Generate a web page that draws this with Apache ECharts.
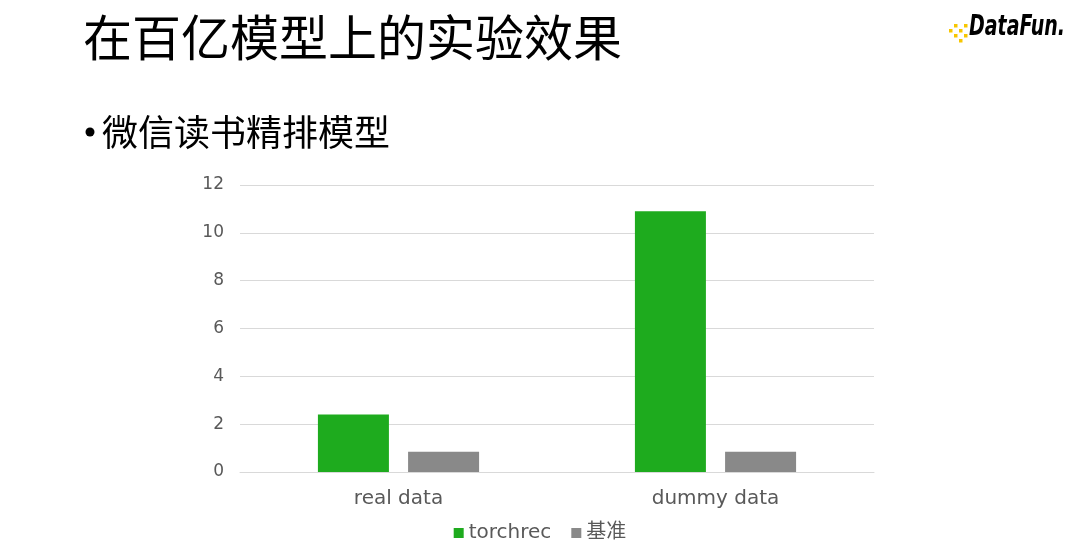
<!DOCTYPE html>
<html><head><meta charset="utf-8">
<script src="https://cdn.jsdelivr.net/npm/echarts@6/dist/echarts.min.js"></script>
<style>html,body{margin:0;padding:0;background:#fff}#c{width:1080px;height:555px}</style>
</head><body><div id="c"></div>
<script>
const categories = ['real data', 'dummy data'];
const torchrec = [2.4, 10.9];
const baseline = [0.85, 0.85];
const seriesNames = ['torchrec', '基准'];

const chart = echarts.init(document.getElementById('c'));
const font = '"DejaVu Sans", "Noto Sans CJK SC", sans-serif';
const dots = [];
const dotPos = [[949,29],[954,24],[954,34],[959,29],[959,39],[964,24],[964,34]];
dotPos.forEach(p => dots.push({type:'rect', shape:{x:p[0], y:p[1], width:3.5, height:3.5}, style:{fill:'#f7c600'}}));
chart.setOption({
  animation: false,
  textStyle: {fontFamily: font},
  graphic: [
    {type:'text', left: 83, top: 13, style:{text:'在百亿模型上的实验效果', font:'49px "Noto Sans CJK SC"', fill:'#000'}},
    {type:'circle', shape:{cx: 90, cy: 132, r: 4.5}, style:{fill:'#000'}},
    {type:'text', left: 102, top: 114, style:{text:'微信读书精排模型', font:'36px "Noto Sans CJK SC"', fill:'#000'}},
    ...dots,
    {type:'text', x: 969, y: 14, scaleY: 1.45, style:{text:'DataFun.', font:'bold italic 19px "DejaVu Sans"', fill: new echarts.graphic.LinearGradient(0,0,1,0,[{offset:0,color:'#f9b800'},{offset:1,color:'#f26a1b'}])}}
  ],
  grid: {left: 240, right: 206, top: 185, bottom: 83},
  legend: {
    bottom: 7, left: 'center', itemWidth: 10, itemHeight: 10, itemGap: 20,
    icon: 'rect',
    textStyle: {color: '#595959', fontSize: 20, fontFamily: font},
    data: seriesNames
  },
  xAxis: {
    type: 'category', data: categories,
    axisLine: {lineStyle: {color: '#d9d9d9'}},
    axisTick: {show: false},
    axisLabel: {color: '#595959', fontSize: 20, margin: 17, fontFamily: font}
  },
  yAxis: {
    type: 'value', min: 0, max: 12, interval: 2,
    axisLine: {show: false}, axisTick: {show: false},
    axisLabel: {color: '#595959', fontSize: 17, margin: 16, fontFamily: font, lineHeight: 17, padding: [6, 0, 0, 0]},
    splitLine: {lineStyle: {color: '#d9d9d9'}}
  },
  series: [
    {name: seriesNames[0], type: 'bar', data: torchrec, barWidth: 71, barGap: '27%', itemStyle: {color: '#1eab1e'}},
    {name: seriesNames[1], type: 'bar', data: baseline, barWidth: 71, itemStyle: {color: '#898989'}}
  ]
});
</script></body></html>
